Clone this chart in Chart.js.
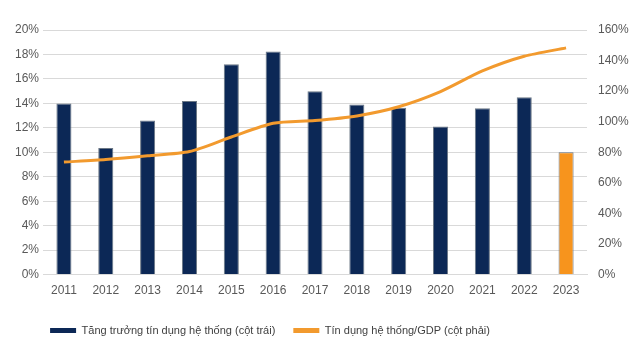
<!DOCTYPE html>
<html>
<head>
<meta charset="utf-8">
<script src="https://cdn.jsdelivr.net/npm/chart.js@4/dist/chart.umd.min.js"></script>
<style>
html,body{margin:0;padding:0;background:#fff;}
#wrap{position:relative;width:638px;height:353px;}
</style>
</head>
<body>
<div id="wrap"><canvas id="c" width="638" height="353"></canvas></div>
<script>
const years = ['2011','2012','2013','2014','2015','2016','2017','2018','2019','2020','2021','2022','2023'];
const creditGrowth = [14.0, 10.35, 12.6, 14.2, 17.2, 18.25, 15.0, 13.9, 13.65, 12.1, 13.6, 14.5, 10.0];
const creditToGdp = [73.6, 75.3, 77.7, 80.5, 90.0, 99.0, 100.8, 103.8, 109.8, 119.7, 133.2, 142.8, 148.3];
const leftTicks = [0, 2, 4, 6, 8, 10, 12, 14, 16, 18, 20];
const rightTicks = [0, 20, 40, 60, 80, 100, 120, 140, 160];
const barLabel = 'Tăng trưởng tín dụng hệ thống (cột trái)';
const lineLabel = 'Tín dụng hệ thống/GDP (cột phải)';

const NAVY = '#0c2856';
const ORANGE_BAR = '#f7941d';
const ORANGE_LINE = '#f29a2e';
const barColors = years.map((y, i) => i === years.length - 1 ? ORANGE_BAR : NAVY);

const legendShift = {
  id: 'legendShift',
  afterLayout(chart) {
    const lg = chart.legend;
    if (lg) { lg.left -= 49; lg.right -= 49; }
  }
};

Chart.defaults.font.family = '"Liberation Sans", Arial, sans-serif';
Chart.defaults.color = '#595959';

new Chart(document.getElementById('c'), {
  type: 'bar',
  data: {
    labels: years,
    datasets: [
      {
        type: 'bar',
        label: barLabel,
        data: creditGrowth,
        backgroundColor: barColors,
        borderColor: '#6b7785',
        borderWidth: 1,
        categoryPercentage: 1.0,
        barPercentage: 0.36,
        yAxisID: 'y',
        order: 2
      },
      {
        type: 'line',
        label: lineLabel,
        data: creditToGdp,
        borderColor: ORANGE_LINE,
        backgroundColor: ORANGE_LINE,
        borderWidth: 3,
        pointRadius: 0,
        tension: 0.25,
        fill: false,
        yAxisID: 'y1',
        order: 1
      }
    ]
  },
  options: {
    responsive: false,
    animation: false,
    devicePixelRatio: 1,
    layout: { padding: { top: 30, bottom: 7, left: 0, right: 0 } },
    plugins: {
      tooltip: { enabled: false },
      legend: {
        position: 'bottom',
        labels: {
          sort: (a, b) => a.datasetIndex - b.datasetIndex,
          boxWidth: 26,
          boxHeight: 5,
          padding: 18,
          color: '#404040',
          font: { size: 11 },
          generateLabels(chart) {
            return chart.data.datasets.map((ds, i) => ({
              text: ds.label,
              fillStyle: i === 0 ? NAVY : ORANGE_LINE,
              strokeStyle: i === 0 ? NAVY : ORANGE_LINE,
              lineWidth: 0,
              hidden: false,
              datasetIndex: i,
              fontColor: '#404040'
            }));
          }
        }
      }
    },
    scales: {
      x: {
        grid: { display: false, drawTicks: false },
        border: { display: true, color: '#d9d9d9', width: 1 },
        ticks: { padding: 9, font: { size: 12 }, color: '#595959', maxRotation: 0 }
      },
      y: {
        position: 'left',
        min: 0, max: 20,
        afterBuildTicks(s) { s.ticks = leftTicks.map(v => ({ value: v })); },
        afterFit(s) { s.width = 43; },
        grid: { color: '#d9d9d9', lineWidth: 1, drawTicks: false },
        border: { display: false },
        ticks: { padding: 4, font: { size: 12 }, color: '#595959', callback: v => v + '%' }
      },
      y1: {
        position: 'right',
        min: 0, max: 160,
        afterBuildTicks(s) { s.ticks = rightTicks.map(v => ({ value: v })); },
        afterFit(s) { s.width = 51; },
        grid: { display: false, drawTicks: false },
        border: { display: false },
        ticks: { padding: 11, font: { size: 12 }, color: '#595959', callback: v => v + '%' }
      }
    }
  },
  plugins: [legendShift]
});
</script>
</body>
</html>
